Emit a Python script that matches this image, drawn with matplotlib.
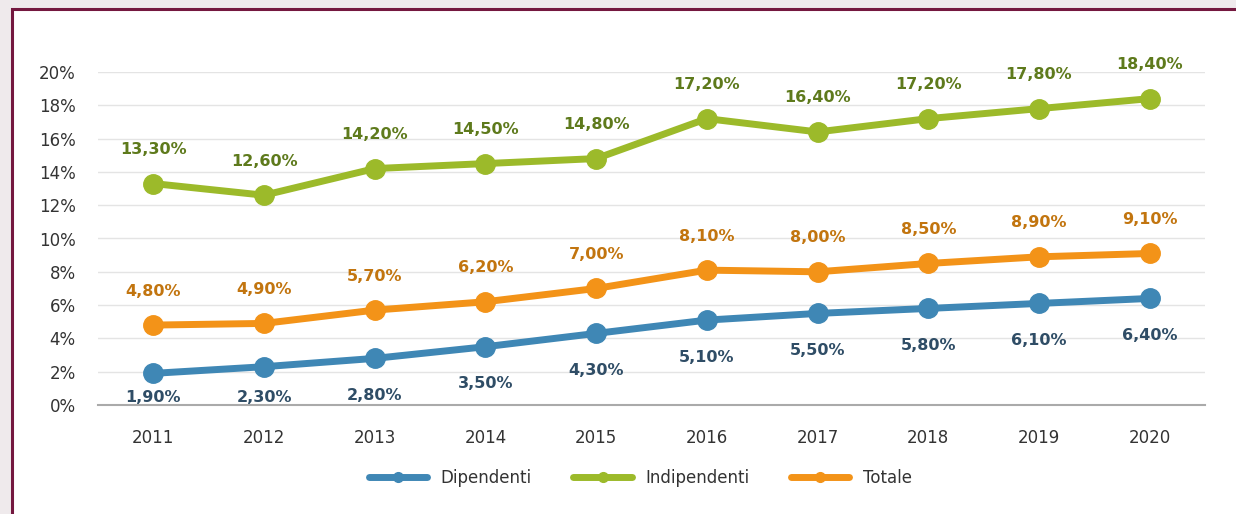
import matplotlib.pyplot as plt
from matplotlib.patches import Rectangle

# data
anni = ['2011', '2012', '2013', '2014', '2015', '2016', '2017', '2018', '2019', '2020']
dipendenti = [1.9, 2.3, 2.8, 3.5, 4.3, 5.1, 5.5, 5.8, 6.1, 6.4]
indipendenti = [13.3, 12.6, 14.2, 14.5, 14.8, 17.2, 16.4, 17.2, 17.8, 18.4]
totale = [4.8, 4.9, 5.7, 6.2, 7.0, 8.1, 8.0, 8.5, 8.9, 9.1]
y_ticks = [0, 2, 4, 6, 8, 10, 12, 14, 16, 18, 20]

c_blue = '#3f87b5'
c_green = '#9cba2a'
c_orange = '#f39318'

plt.rcParams['font.family'] = ['DejaVu Sans']

fig = plt.figure(figsize=(12.36, 5.14), dpi=100)
fig.patch.set_facecolor('#efeaec')

# white panel with maroon border, behind the axes
panel = Rectangle((12 / 1236, -0.05), 1.2, 1 - 9 / 514 + 0.05, transform=fig.transFigure,
                  facecolor='white', edgecolor='#74183f', linewidth=2.2, zorder=-5)
fig.patches.append(panel)

ax = fig.add_axes([98 / 1236, 109 / 514, (1205 - 98) / 1236, (405 - 72) / 514])
ax.set_zorder(2)
ax.set_facecolor('none')
x = list(range(len(anni)))

def fmt(v):
    return f'{v:.2f}'.replace('.', ',') + '%'

series = [
    ('Dipendenti', dipendenti, c_blue, '#2f4d66', 'below'),
    ('Indipendenti', indipendenti, c_green, '#5e7a1c', 'above'),
    ('Totale', totale, c_orange, '#c2750f', 'above'),
]

for name, vals, col, lab_col, pos in series:
    ax.plot(x, vals, color=col, lw=5, marker='o', markersize=14,
            solid_capstyle='round', label=name, zorder=3, clip_on=False)
    for xi, v in zip(x, vals):
        if pos == 'above':
            ax.annotate(fmt(v), (xi, v), xytext=(0, 24.5), textcoords='offset points',
                        ha='center', va='center', fontsize=11.5, fontweight='bold',
                        color=lab_col, zorder=4)
        else:
            ly = max(v - 2.22, 0.45)
            ax.text(xi, ly, fmt(v), ha='center', va='center', fontsize=11.5,
                    fontweight='bold', color=lab_col, zorder=1)

ax.set_xlim(-0.5, 9.5)
ax.set_ylim(0, 20)
ax.set_xticks(x)
ax.set_xticklabels(anni)
ax.set_yticks(y_ticks)
ax.set_yticklabels([f'{t}%' for t in y_ticks])
ax.tick_params(axis='both', length=0, labelsize=12, colors='#333333')
ax.tick_params(axis='x', pad=17)
ax.tick_params(axis='y', pad=16)
ax.grid(axis='y', color='#e4e4e4', lw=1)
ax.set_axisbelow(True)
for s in ['top', 'right', 'left']:
    ax.spines[s].set_visible(False)
ax.spines['bottom'].set_color('#aaaaaa')
ax.spines['bottom'].set_linewidth(1.5)
ax.spines['bottom'].set_zorder(2)

leg = fig.legend(loc='center', bbox_to_anchor=(0.518, 1 - 478 / 514), ncol=3,
                 frameon=False, fontsize=12, handlelength=3.5, columnspacing=2.5,
                 handletextpad=0.8)
for h in leg.legend_handles:
    h.set_markersize(7)
    h.set_linewidth(5)
for t in leg.get_texts():
    t.set_color('#333333')

fig.savefig('out.png', dpi=100, facecolor=fig.get_facecolor())
